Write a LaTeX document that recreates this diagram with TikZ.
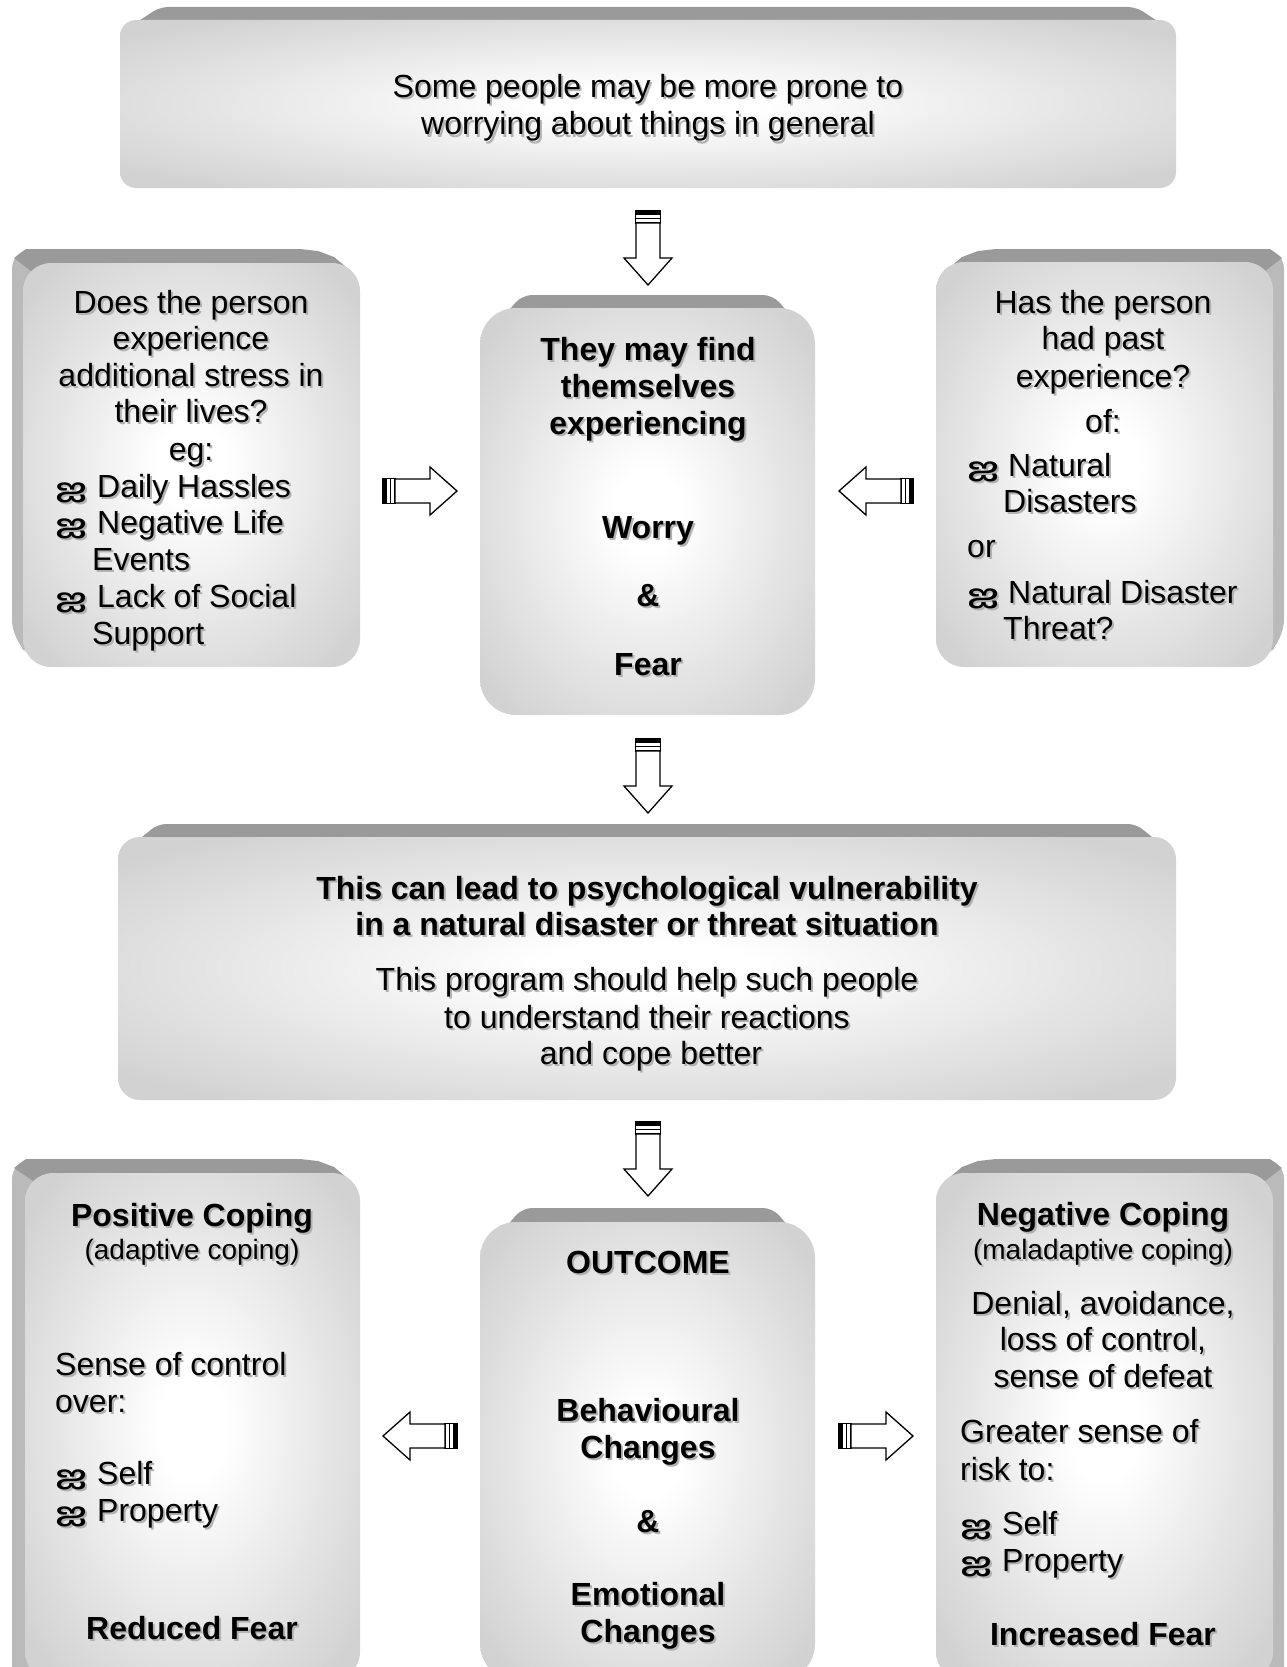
\documentclass[tikz,border=0pt]{standalone}
\usepackage{fontspec}
\setmainfont{Liberation Sans}
\newfontfamily\tamilfont[Script=Tamil]{Hind Madurai}
\definecolor{facegray}{RGB}{210,210,210}
\definecolor{bevtopc}{RGB}{154,154,154}
\definecolor{bevsidec}{RGB}{186,186,186}
\definecolor{shadowc}{RGB}{178,178,178}
\pgfdeclareradialshading{boxsh}{\pgfpoint{0bp}{0bp}}{color(0bp)=(white); color(5bp)=(white); color(32bp)=(facegray); color(50bp)=(facegray)}
\tikzset{
 face/.style={rectangle, inner sep=0pt, shade, shading=boxsh},
 txt/.style={inner sep=0pt, anchor=base, font=\fontsize{32}{37}\selectfont},
 bf/.style={font=\fontsize{32}{37}\selectfont\bfseries},
 sm/.style={font=\fontsize{28}{33}\selectfont},
 lft/.style={anchor=base west},
 bul/.style={anchor=base west, font=\tamilfont\bfseries\fontsize{30}{33}\selectfont},
 arrowline/.style={line width=1.3pt, line join=miter},
}
\newcounter{ln}
\newcommand\TX[4][]{%
 \stepcounter{ln}%
 \node[txt,#1,text=shadowc] (S\arabic{ln}) at (#2+2,#3+2) {#4};%
 \node[txt,#1] (L\arabic{ln}) at (#2,#3) {#4};}
\newcommand\BU[2]{\TX[bul]{#1}{#2}{\scalebox{1.2}[0.85]{ஐ}}}
\newcommand\blockarrow[4]{%
 \begin{scope}[shift={(#2,#3)}, rotate=#4]
  \coordinate (#1) at (0,0);
  \filldraw[arrowline] (0,-12.5) rectangle (3.5,12.5);
  \draw[arrowline] (3.5,-12.5) rectangle (12,12.5);
  \draw[arrowline] (7.5,-12.5) -- (7.5,12.5);
  \draw[arrowline, fill=white] (12,-12) -- (47,-12) -- (47,-24) -- (74,0) -- (47,24) -- (47,12) -- (12,12) -- cycle;
 \end{scope}}
\begin{document}
\begin{tikzpicture}[x=1pt,y=-1pt]
\useasboundingbox[fill=white] (0,0) rectangle (1287,1667);
% ---------- bevels ----------
\fill[bevtopc, rounded corners=8] (128,28) -- (160,7) -- (1136,7) -- (1168,28) -- cycle;
\fill[bevtopc, rounded corners=10] (492,330) -- (522,295) -- (773,295) -- (803,330) -- cycle;
\fill[bevtopc, rounded corners=8] (126,850) -- (158,824) -- (1136,824) -- (1168,850) -- cycle;
\fill[bevtopc, rounded corners=10] (492,1244) -- (522,1208) -- (773,1208) -- (803,1244) -- cycle;
% left box
\fill[bevsidec, rounded corners=20] (12,249) -- (300,249) -- (352,275) -- (200,450) -- (35,660) -- (12,640) -- cycle;
\fill[bevtopc] (14,258) -- (26,249) -- (300,249) -- (318,251) -- (334,257) -- (352,272) -- (340,300) -- (60,300) -- (31,271) -- cycle;
% right box
\fill[bevsidec, rounded corners=20] (1284,249) -- (996,249) -- (944,275) -- (1096,450) -- (1261,660) -- (1284,640) -- cycle;
\fill[bevtopc] (1282,258) -- (1270,249) -- (996,249) -- (978,251) -- (962,257) -- (944,272) -- (956,300) -- (1236,300) -- (1265,271) -- cycle;
% bottom left
\fill[bevsidec, rounded corners=20] (12,1159) -- (300,1159) -- (352,1185) -- (200,1400) -- (40,1700) -- (12,1700) -- cycle;
\fill[bevtopc] (14,1168) -- (26,1159) -- (300,1159) -- (318,1161) -- (334,1167) -- (352,1182) -- (340,1210) -- (62,1210) -- (33,1181) -- cycle;
% bottom right
\fill[bevsidec, rounded corners=20] (1284,1159) -- (996,1159) -- (944,1185) -- (1096,1400) -- (1256,1700) -- (1284,1700) -- cycle;
\fill[bevtopc] (1282,1168) -- (1270,1159) -- (996,1159) -- (978,1161) -- (962,1167) -- (944,1182) -- (956,1210) -- (1236,1210) -- (1265,1181) -- cycle;
% ---------- faces ----------
\node[face, rounded corners=16, minimum width=1056pt, minimum height=168pt] (topbox) at (648,104) {};
\node[face, rounded corners=28, minimum width=337pt, minimum height=404pt] (leftbox) at (191.5,465) {};
\node[face, rounded corners=36, minimum width=335pt, minimum height=407pt] (centerbox) at (647.5,511.5) {};
\node[face, rounded corners=28, minimum width=337pt, minimum height=405pt] (rightbox) at (1104.5,464.5) {};
\node[face, rounded corners=22, minimum width=1058pt, minimum height=263pt] (midbox) at (647,968.5) {};
\node[face, rounded corners=28, minimum width=335pt, minimum height=507pt] (posbox) at (192.5,1426.5) {};
\node[face, rounded corners=36, minimum width=335pt, minimum height=458pt] (outbox) at (647.5,1451) {};
\node[face, rounded corners=28, minimum width=337pt, minimum height=507pt] (negbox) at (1104.5,1426.5) {};
% ---------- arrows ----------
\blockarrow{a1}{648}{211}{-90}
\blockarrow{a2}{648}{739}{-90}
\blockarrow{a3}{648}{1122}{-90}
\blockarrow{a4}{383}{491}{0}
\blockarrow{a5}{913}{491}{180}
\blockarrow{a6}{457}{1436}{180}
\blockarrow{a7}{839}{1436}{0}
% ---------- top ----------
\TX{648}{98}{Some people may be more prone to}
\TX{648}{135}{worrying about things in general}
% ---------- left ----------
\TX{191}{313}{Does the person}
\TX{191}{349}{experience}
\TX{191}{386}{additional stress in}
\TX{191}{422}{their lives?}
\TX{191}{460}{eg:}
\BU{55}{497}\TX[lft]{97}{497}{Daily Hassles}
\BU{55}{533}\TX[lft]{97}{533}{Negative Life}
\TX[lft]{92}{570}{Events}
\BU{55}{607}\TX[lft]{97}{607}{Lack of Social}
\TX[lft]{92}{644}{Support}
% ---------- center ----------
\TX[bf]{648}{360}{They may find}
\TX[bf]{648}{397}{themselves}
\TX[bf]{648}{434}{experiencing}
\TX[bf]{648}{538}{Worry}
\TX[bf]{648}{606}{\&}
\TX[bf]{648}{675}{Fear}
% ---------- right ----------
\TX{1103}{313}{Has the person}
\TX{1103}{349}{had past}
\TX{1103}{387}{experience?}
\TX{1103}{432}{of:}
\BU{967}{476}\TX[lft]{1008}{476}{Natural}
\TX[lft]{1003}{512}{Disasters}
\TX[lft]{967}{557}{or}
\BU{967}{603}\TX[lft]{1008}{603}{Natural Disaster}
\TX[lft]{1003}{639}{Threat?}
% ---------- middle ----------
\TX[bf]{647}{899}{This can lead to psychological vulnerability}
\TX[bf]{647}{935}{in a natural disaster or threat situation}
\TX{647}{990}{This program should help such people}
\TX{647}{1028}{to understand their reactions}
\TX{651}{1064}{and cope better}
% ---------- bottom left ----------
\TX[bf]{192}{1226}{Positive Coping}
\TX[sm]{192}{1259}{(adaptive coping)}
\TX[lft]{55}{1375}{Sense of control}
\TX[lft]{55}{1412}{over:}
\BU{55}{1484}\TX[lft]{97}{1484}{Self}
\BU{55}{1521}\TX[lft]{97}{1521}{Property}
\TX[bf]{192}{1639}{Reduced Fear}
% ---------- bottom center ----------
\TX[bf]{648}{1273}{OUTCOME}
\TX[bf]{648}{1421}{Behavioural}
\TX[bf]{648}{1458}{Changes}
\TX[bf]{648}{1532}{\&}
\TX[bf]{648}{1605}{Emotional}
\TX[bf]{648}{1642}{Changes}
% ---------- bottom right ----------
\TX[bf]{1103}{1225}{Negative Coping}
\TX[sm]{1103}{1259}{(maladaptive coping)}
\TX{1103}{1314}{Denial, avoidance,}
\TX{1103}{1350}{loss of control,}
\TX{1103}{1387}{sense of defeat}
\TX[lft]{960}{1442}{Greater sense of}
\TX[lft]{960}{1480}{risk to:}
\BU{960}{1534}\TX[lft]{1002}{1534}{Self}
\BU{960}{1571}\TX[lft]{1002}{1571}{Property}
\TX[bf]{1103}{1645}{Increased Fear}
\end{tikzpicture}
\end{document}
